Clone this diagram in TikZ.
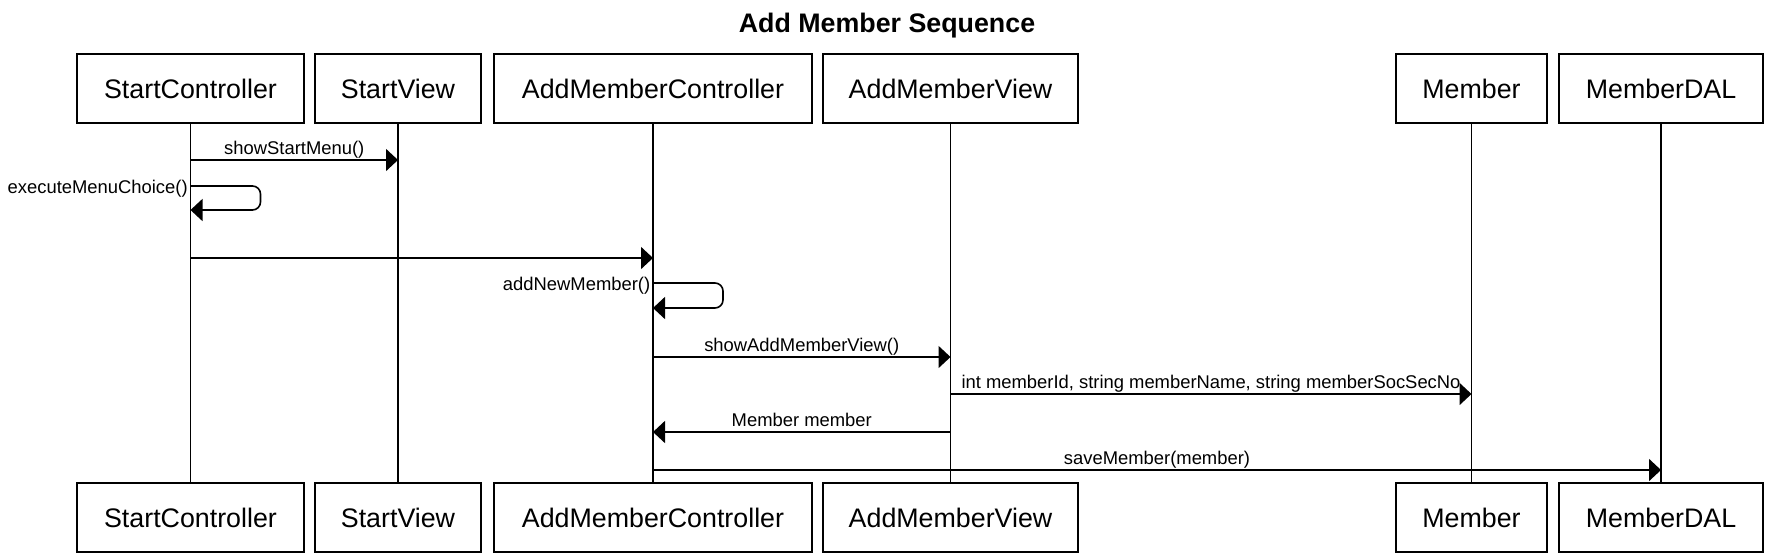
\documentclass[tikz,border=0pt]{standalone}
\usepackage{fontspec}
\setmainfont{Liberation Sans}
\usetikzlibrary{arrows.meta}
\begin{document}
\begin{tikzpicture}[x=0.5pt,y=-0.5pt,
  obj/.style={draw, line width=0.8pt, minimum height=34.5pt, inner sep=0pt, font=\fontsize{13.4}{16}\selectfont},
  life/.style={line width=0.8pt},
  msg/.style={line width=0.8pt, -{Triangle[length=6pt,width=11pt]}},
  lbl/.style={font=\fontsize{9.2}{11}\selectfont, inner sep=0pt},
  above lbl/.style={lbl, midway, anchor=base, yshift=3pt},
  self lbl/.style={lbl, anchor=east, xshift=-1pt, yshift=-1.2pt}
]
\useasboundingbox (0,0) rectangle (1776,558);
\node[font=\bfseries\fontsize{13.4}{16}\selectfont] (title) at (887,26) {Add Member Sequence};

% top heads
\node[obj, minimum width=113.5pt] (t1) at (190.5,88.5) {StartController};
\node[obj, minimum width=83pt]    (t2) at (398,88.5)   {StartView};
\node[obj, minimum width=159pt]   (t3) at (653,88.5)   {AddMemberController};
\node[obj, minimum width=127.5pt] (t4) at (950.5,88.5) {AddMemberView};
\node[obj, minimum width=75.5pt]  (t5) at (1471.5,88.5){Member};
\node[obj, minimum width=102pt]   (t6) at (1661,88.5)  {MemberDAL};
% bottom heads
\node[obj, minimum width=113.5pt] (b1) at (190.5,517.5) {StartController};
\node[obj, minimum width=83pt]    (b2) at (398,517.5)   {StartView};
\node[obj, minimum width=159pt]   (b3) at (653,517.5)   {AddMemberController};
\node[obj, minimum width=127.5pt] (b4) at (950.5,517.5) {AddMemberView};
\node[obj, minimum width=75.5pt]  (b5) at (1471.5,517.5){Member};
\node[obj, minimum width=102pt]   (b6) at (1661,517.5)  {MemberDAL};

% lifelines
\foreach \i in {1,...,6} { \draw[life] (t\i) -- (b\i); }

% message levels
\coordinate (L1) at (0,160);
\coordinate (L2) at (0,186);
\coordinate (L3) at (0,210);
\coordinate (L4) at (0,258);
\coordinate (L5) at (0,283);
\coordinate (L6) at (0,308);
\coordinate (L7) at (0,357);
\coordinate (L8) at (0,394);
\coordinate (L9) at (0,432);
\coordinate (L10) at (0,470);

\draw[msg] (t1 |- L1) -- node[above lbl] {showStartMenu()} (t2 |- L1);
\draw[msg, rounded corners=4pt] (t1 |- L2) node[self lbl] {executeMenuChoice()}
   -- ++(70,0) -- ++(0,24) -- (t1 |- L3);
\draw[msg] (t1 |- L4) -- (t3 |- L4);
\draw[msg, rounded corners=4pt] (t3 |- L5) node[self lbl] {addNewMember()}
   -- ++(70,0) -- ++(0,25) -- (t3 |- L6);
\draw[msg] (t3 |- L7) -- node[above lbl] {showAddMemberView()} (t4 |- L7);
\draw[msg] (t4 |- L8) -- node[above lbl] {int memberId, string memberName, string memberSocSecNo} (t5 |- L8);
\draw[msg] (t4 |- L9) -- node[above lbl] {Member member} (t3 |- L9);
\draw[msg] (t3 |- L10) -- node[above lbl] {saveMember(member)} (t6 |- L10);
\end{tikzpicture}
\end{document}
